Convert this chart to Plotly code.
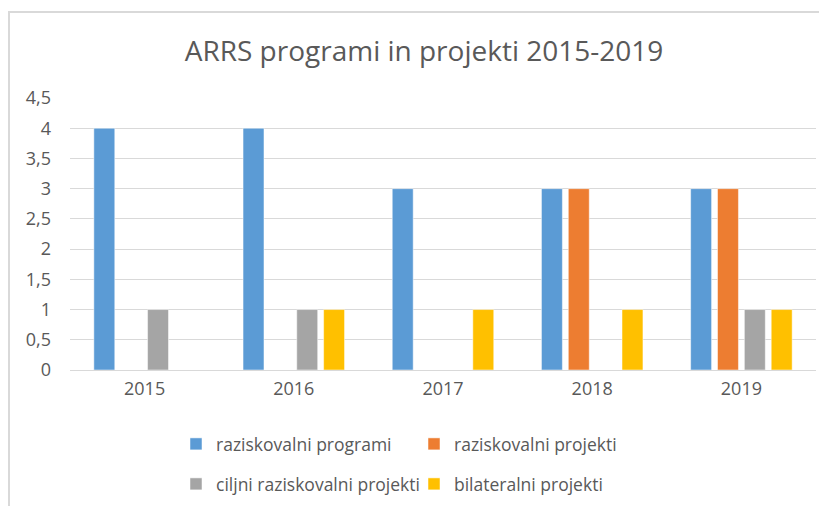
import plotly.graph_objects as go

years = ["2015", "2016", "2017", "2018", "2019"]
raziskovalni_programi = [4, 4, 3, 3, 3]
raziskovalni_projekti = [0, 0, 0, 3, 3]
ciljni_projekti = [1, 1, 0, 0, 1]
bilateralni_projekti = [0, 1, 1, 1, 1]

series = [
    ("raziskovalni programi", raziskovalni_programi, "#5B9BD5", "legend"),
    ("raziskovalni projekti", raziskovalni_projekti, "#ED7D31", "legend"),
    ("ciljni raziskovalni projekti", ciljni_projekti, "#A5A5A5", "legend2"),
    ("bilateralni projekti", bilateralni_projekti, "#FFC000", "legend2"),
]

FONT = "Open Sans, sans-serif"
GREY = "#595959"

# page body has an 8px margin; positions below are in figure coords
L, R, T, B = 62, 19, 90, 144
W, H = 827, 506
PW, PH = W - L - R, H - T - B

def px(x):
    return (x - L) / PW

def py(y):
    return (H - B - y) / PH

fig = go.Figure()
for name, vals, col, lg in series:
    fig.add_trace(go.Bar(x=years, y=vals, name=name, legend=lg,
                         marker=dict(color=col, line=dict(color="white", width=0.5))))

leg_common = dict(orientation="h", xanchor="left", yanchor="middle",
                  entrywidth=193, entrywidthmode="pixels", traceorder="normal",
                  font=dict(size=17.5, color=GREY, family=FONT), itemclick=False,
                  bgcolor="rgba(0,0,0,0)")

fig.update_layout(
    width=W, height=H,
    paper_bgcolor="white", plot_bgcolor="white",
    margin=dict(l=L, r=R, t=T, b=B),
    barmode="group", bargap=0.28, bargroupgap=0.22,
    title=dict(text="ARRS programi in projekti 2015-2019", x=416 / W, xanchor="center",
               y=1 - 43 / H, yanchor="middle",
               font=dict(family=FONT, size=28, color=GREY)),
    font=dict(family=FONT, color=GREY, size=18),
    xaxis=dict(showgrid=False, showline=False, ticks="", ticklabelstandoff=6,
               tickfont=dict(size=18, color=GREY)),
    yaxis=dict(range=[0, 4.5], dtick=0.5, tickformat=".1~f",
               showgrid=True, gridcolor="#D9D9D9", gridwidth=1,
               zeroline=True, zerolinecolor="#D9D9D9", zerolinewidth=1,
               showline=False, ticks="", ticklabelstandoff=18,
               tickfont=dict(size=18, color=GREY)),
    separators=", ",
    legend=dict(x=px(168), y=py(436), **leg_common),
    legend2=dict(x=px(168), y=py(476), **leg_common),
    shapes=[dict(type="rect", xref="paper", yref="paper",
                 x0=px(1), x1=px(W + 20),
                 y0=py(H + 20), y1=py(4),
                 line=dict(color="#D9D9D9", width=2), fillcolor="rgba(0,0,0,0)", layer="below")],
)

fig.write_html("out.html")
